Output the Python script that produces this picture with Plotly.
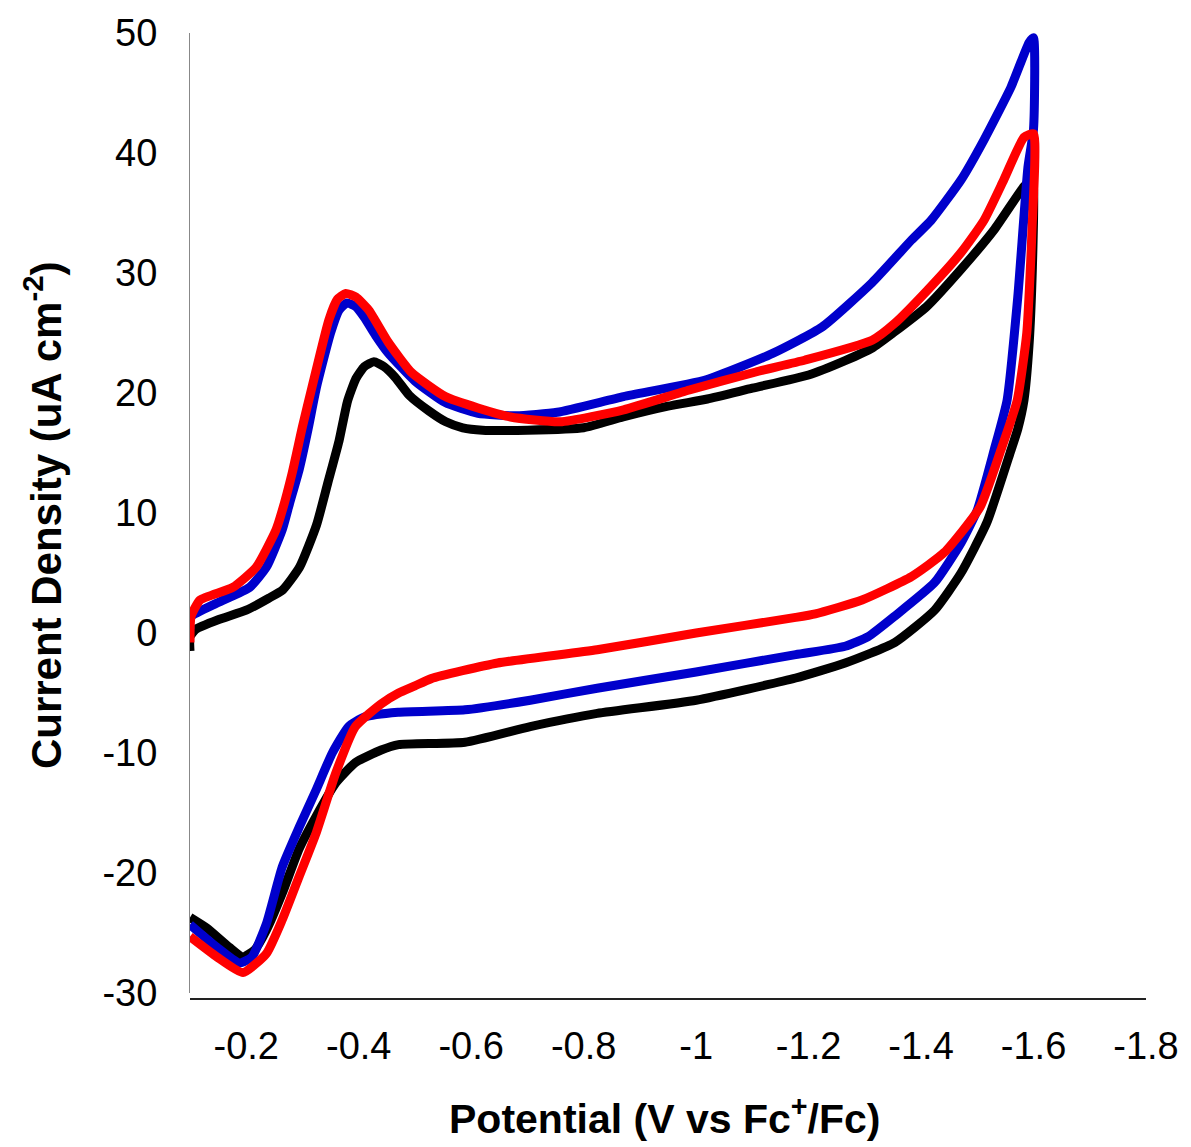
import plotly.graph_objects as go

# ---------------- data (potential V vs Fc+/Fc, current density uA cm^-2) ----------------
black_x = [-0.1, -0.1, -0.11, -0.15, -0.2, -0.24, -0.265, -0.295, -0.325, -0.345, -0.365, -0.38,
           -0.395, -0.41, -0.427, -0.445, -0.465, -0.49, -0.525, -0.555, -0.585, -0.62, -0.7,
           -0.8, -0.87, -0.95, -1.02, -1.1, -1.2, -1.265, -1.313, -1.35, -1.41, -1.47, -1.53,
           -1.583, -1.598, -1.6, -1.598, -1.592, -1.583, -1.572, -1.56, -1.517, -1.471, -1.424,
           -1.353, -1.265, -1.177, -1.0, -0.824, -0.705, -0.589, -0.471, -0.44, -0.394, -0.359,
           -0.324, -0.294, -0.264, -0.236, -0.215, -0.194, -0.17, -0.13, -0.1]
black_y = [-1.5, -0.3, 0.3, 1.1, 1.9, 2.9, 3.6, 5.5, 9.0, 12.5, 16.0, 19.3,
           21.2, 22.2, 22.6, 22.2, 21.3, 19.8, 18.5, 17.6, 17.1, 16.9, 16.9,
           17.1, 18.0, 18.9, 19.5, 20.4, 21.5, 22.7, 23.75, 25.0, 27.2, 30.25, 33.6,
           37.2, 37.8, 37.0, 30.5, 24.0, 19.4, 17.0, 15.25, 9.2, 5.0, 1.9,
           -0.8, -2.5, -3.75, -5.6, -6.7, -7.8, -9.1, -9.3, -9.75, -10.8, -12.5,
           -15.3, -18.0, -21.7, -24.75, -26.4, -27.0, -26.2, -24.6, -23.7]

blue_x = [-0.1, -0.1, -0.148, -0.206, -0.236, -0.264, -0.277, -0.294, -0.31, -0.325, -0.35,
          -0.365, -0.379, -0.395, -0.41, -0.43, -0.453, -0.5, -0.554, -0.612, -0.68, -0.753,
          -0.871, -1.018, -1.136, -1.224, -1.313, -1.383, -1.418, -1.471, -1.512, -1.56,
          -1.592, -1.6, -1.6, -1.59, -1.572, -1.553, -1.53, -1.5, -1.471, -1.424, -1.353,
          -1.306, -1.265, -1.177, -1.0, -0.824, -0.705, -0.589, -0.47, -0.41, -0.382,
          -0.353, -0.324, -0.294, -0.264, -0.236, -0.21, -0.188, -0.148, -0.1]
blue_y = [0.3, 1.3, 2.5, 3.8, 5.5, 8.6, 10.8, 13.6, 17.0, 20.5, 25.0,
          26.9, 27.5, 27.2, 26.3, 24.8, 23.3, 21.0, 19.2, 18.3, 18.1, 18.4,
          19.7, 21.1, 23.3, 25.5, 29.2, 32.75, 34.4, 37.75, 41.1, 45.5,
          49.2, 49.6, 42.0, 38.8, 28.0, 19.4, 15.25, 10.25, 7.5, 4.2, 1.4,
          -0.3, -1.1, -1.8, -3.25, -4.6, -5.6, -6.4, -6.6, -7.0, -7.8,
          -10.0, -13.1, -16.2, -19.5, -24.2, -27.0, -27.5, -26.2, -24.3]

red_x = [-0.1, -0.102, -0.118, -0.176, -0.218, -0.253, -0.264, -0.282, -0.3, -0.317, -0.347,
         -0.362, -0.377, -0.395, -0.418, -0.453, -0.494, -0.554, -0.612, -0.67, -0.758,
         -0.871, -0.988, -1.106, -1.194, -1.313, -1.353, -1.412, -1.471, -1.512, -1.547,
         -1.583, -1.6, -1.597, -1.588, -1.571, -1.542, -1.505, -1.441, -1.383, -1.295,
         -1.212, -1.177, -1.0, -0.824, -0.647, -0.529, -0.5, -0.471, -0.44, -0.394, -0.359,
         -0.324, -0.294, -0.264, -0.236, -0.194, -0.148, -0.1]
red_y = [-0.8, 1.4, 2.75, 3.8, 5.5, 8.6, 10.2, 13.4, 17.2, 20.5, 26.1,
         27.8, 28.3, 28.0, 26.9, 24.2, 21.7, 19.7, 18.75, 18.0, 17.6,
         18.6, 20.25, 21.75, 22.75, 24.4, 25.8, 28.6, 31.7, 34.4, 37.75,
         41.3, 41.6, 33.3, 25.0, 19.4, 15.25, 10.5, 6.7, 4.7, 2.75,
         1.6, 1.3, 0.0, -1.4, -2.5, -3.8, -4.4, -5.0, -5.9, -7.8, -11.7,
         -16.7, -20.3, -23.9, -26.7, -28.3, -27.0, -25.3]

x_tick_vals = [-0.2, -0.4, -0.6, -0.8, -1.0, -1.2, -1.4, -1.6, -1.8]
x_tick_text = ["-0.2", "-0.4", "-0.6", "-0.8", "-1", "-1.2", "-1.4", "-1.6", "-1.8"]
y_tick_vals = [-30, -20, -10, 0, 10, 20, 30, 40, 50]
y_tick_text = ["-30", "-20", "-10", "0", "10", "20", "30", "40", "50"]

series = [
    ("black", black_x, black_y, "#000000"),
    ("blue", blue_x, blue_y, "#0000CC"),
    ("red", red_x, red_y, "#FF0000"),
]

fig = go.Figure()
for name, xs, ys, col in series:
    fig.add_trace(go.Scatter(x=xs, y=ys, mode="lines", name=name,
                             line=dict(color=col, width=9, shape="spline", smoothing=0.5),
                             showlegend=False))

font_family = "Liberation Sans, Arial, sans-serif"

fig.update_layout(
    width=1191, height=1147,
    margin=dict(l=190, r=38, t=33, b=148),
    paper_bgcolor="white", plot_bgcolor="white",
    font=dict(family=font_family, color="black"),
    xaxis=dict(range=[-0.1, -1.8], tickvals=x_tick_vals, ticktext=x_tick_text,
               showgrid=False, zeroline=False, showline=True, linecolor="#222222",
               linewidth=1.5, ticks="", tickfont=dict(size=38, family=font_family),
               ticklabelstandoff=14, anchor="free", position=0),
    yaxis=dict(range=[-30, 50], tickvals=y_tick_vals, ticktext=y_tick_text,
               domain=[0.0062, 1],
               showgrid=False, zeroline=False, showline=True, linecolor="#888888",
               linewidth=1, ticks="", tickfont=dict(size=38, family=font_family),
               ticklabelstandoff=24),
    annotations=[
        dict(text="<b>Potential (V vs Fc<sup>+</sup>/Fc)</b>", xref="paper", yref="paper",
             x=(668 - 190) / 963, y=(999 - 1116) / 966, xanchor="center", yanchor="middle",
             showarrow=False, font=dict(size=41, family=font_family, color="black")),
        dict(text="<b>Current Density (uA cm<sup>-2</sup>)</b>", xref="paper", yref="paper",
             x=(42 - 190) / 963, y=(999 - 515) / 966, xanchor="center", yanchor="middle",
             textangle=-90, showarrow=False,
             font=dict(size=42, family=font_family, color="black")),
    ],
)

fig.write_html("out.html")
